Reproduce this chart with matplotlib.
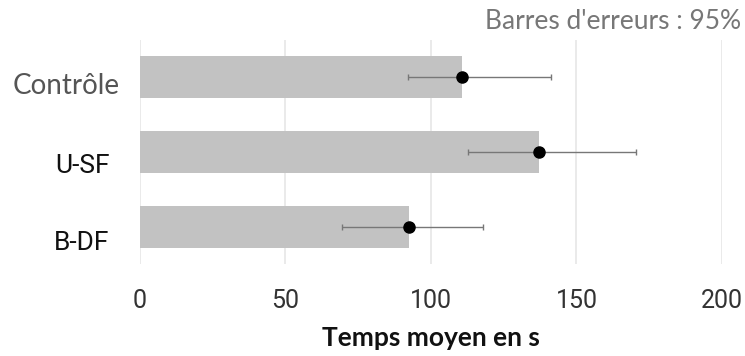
import matplotlib
matplotlib.use("Agg")
import matplotlib.pyplot as plt
from matplotlib import transforms

categories = ["Contrôle", "U-SF", "B-DF"]
means = [110.5, 137.2, 92.4]
ci_low = [92.2, 112.6, 69.3]
ci_high = [141.1, 170.6, 118.0]
xticks = [0, 50, 100, 150, 200]

fig = plt.figure(figsize=(7.45, 3.56), dpi=100)
ax = fig.add_axes([0.1879, 0.258, 0.7812, 0.630])

ypos = list(range(len(categories)))
ax.barh(ypos, means, height=0.56, color="#c2c2c2", zorder=2)

err_lo = [m - l for m, l in zip(means, ci_low)]
err_hi = [h - m for m, h in zip(means, ci_high)]
ax.errorbar(means, ypos, xerr=[err_lo, err_hi], fmt="o", color="black",
            ecolor="#777777", elinewidth=1.0, capsize=2, capthick=1.0,
            markersize=8, zorder=3)

ax.set_xlim(0, 200)
ax.set_ylim(2.5, -0.5)
ax.set_xticks(xticks)
ax.set_xticklabels([str(t) for t in xticks], family="Roboto", fontsize=18, color="#333333")
ax.set_yticks(ypos)
ax.set_yticklabels([])
ax.tick_params(length=0, pad=18)
ax.xaxis.grid(True, color="#e6e6e6", linewidth=1.2, zorder=0)
for s in ax.spines.values():
    s.set_visible(False)

# category labels, drawn by hand (the first one uses another font)
label_style = [
    dict(family="Lato", fontsize=20, color="#555555", x=-0.034, dy=-6),
    dict(family="Roboto", fontsize=19, color="#111111", x=-0.052, dy=-10),
    dict(family="Roboto", fontsize=19, color="#111111", x=-0.052, dy=-12),
]
for i, (name, st) in enumerate(zip(categories, label_style)):
    off = transforms.ScaledTranslation(0, st["dy"] / 72, fig.dpi_scale_trans)
    tr = transforms.blended_transform_factory(ax.transAxes, ax.transData) + off
    ax.text(st["x"], ypos[i], name, transform=tr, ha="right", va="center",
            family=st["family"], fontsize=st["fontsize"], color=st["color"])

ax.set_xlabel("Temps moyen en s", fontsize=19, fontweight="bold", family="Lato",
              color="#111111", labelpad=9)
fig.text(0.995, 0.94, "Barres d'erreurs : 95%", ha="right", va="center",
         fontsize=19, family="Lato", color="#777777")

fig.savefig("out.png", dpi=100)
